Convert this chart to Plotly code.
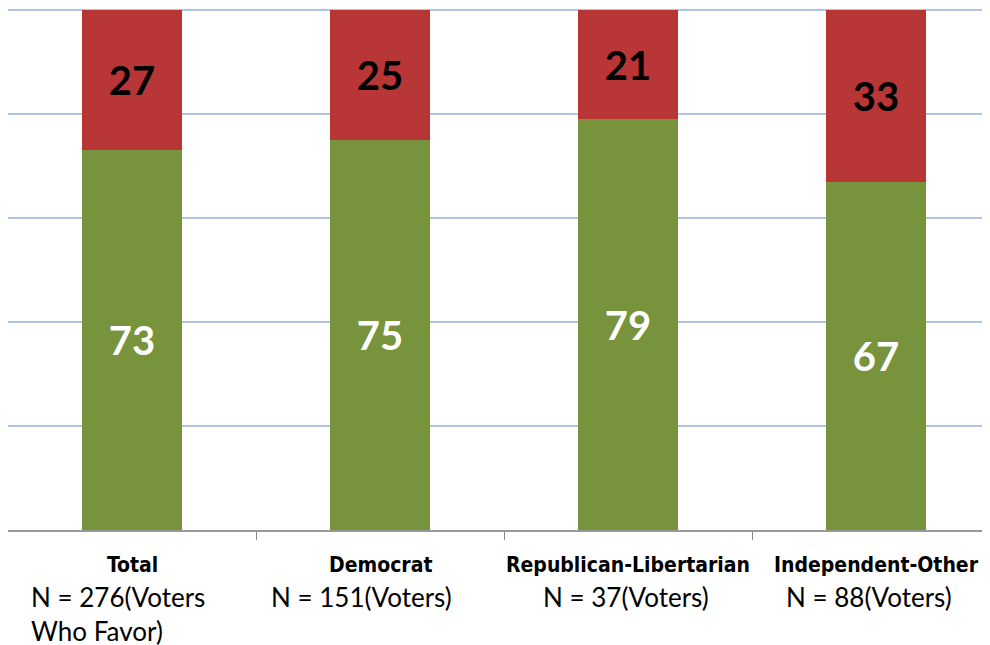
import plotly.graph_objects as go

categories = ["Total", "Democrat", "Republican-Libertarian", "Independent-Other"]
n_labels = ["N = 276(Voters<br>Who Favor)", "N = 151(Voters)", "N = 37(Voters)", "N = 88(Voters)"]
favor = [73, 75, 79, 67]
oppose = [27, 25, 21, 33]

xpos = list(range(len(categories)))
n_xshift = [-14, -19, -2, -7]  # label placement offsets (px)

fig = go.Figure()
fig.add_trace(go.Bar(
    x=xpos, y=favor, width=0.403,
    marker=dict(color="#77933c", line=dict(width=0)),
    text=[str(v) for v in favor], textposition="inside", insidetextanchor="middle",
    textfont=dict(family="Lato", size=40, color="white", weight="bold"),
    showlegend=False,
))
fig.add_trace(go.Bar(
    x=xpos, y=oppose, width=0.403,
    marker=dict(color="#b83636", line=dict(width=0)),
    text=[str(v) for v in oppose], textposition="inside", insidetextanchor="middle",
    textfont=dict(family="Lato", size=40, color="black", weight="bold"),
    showlegend=False,
))

for i, (c, n) in enumerate(zip(categories, n_labels)):
    fig.add_annotation(x=i, y=-0.067, xref="x", yref="paper", text="<b>" + c + "</b>",
                       showarrow=False, yanchor="middle",
                       font=dict(family="DejaVu Sans Condensed, DejaVu Sans", size=21, color="black"))
    fig.add_annotation(x=i, y=-0.093, xref="x", yref="paper", text=n,
                       showarrow=False, yanchor="top", align="left", xshift=n_xshift[i],
                       font=dict(family="Lato", size=26, color="black"))

fig.update_layout(
    width=990, height=645,
    margin=dict(l=0, r=0, t=0, b=123, autoexpand=False),
    barmode="stack", bargap=0,
    plot_bgcolor="white", paper_bgcolor="white",
    uniformtext=dict(mode=False),
    xaxis=dict(range=[-0.5, 3.49], showticklabels=False, tickvals=xpos, ticks="",
               showgrid=False, showline=True, linecolor="#999999", linewidth=2,
               zeroline=False,
               minor=dict(tickvals=[0.5, 1.5, 2.5], ticks="outside", ticklen=8,
                          tickcolor="#888888", tickwidth=1, showgrid=False)),
    yaxis=dict(range=[0, 100.4], tickvals=[20, 40, 60, 80, 100], showticklabels=False,
               showgrid=True, gridcolor="#b4c4e4", gridwidth=2, showline=True,
               linecolor="#999999", linewidth=2, zeroline=False, ticks=""),
)

fig.write_html("out.html")
